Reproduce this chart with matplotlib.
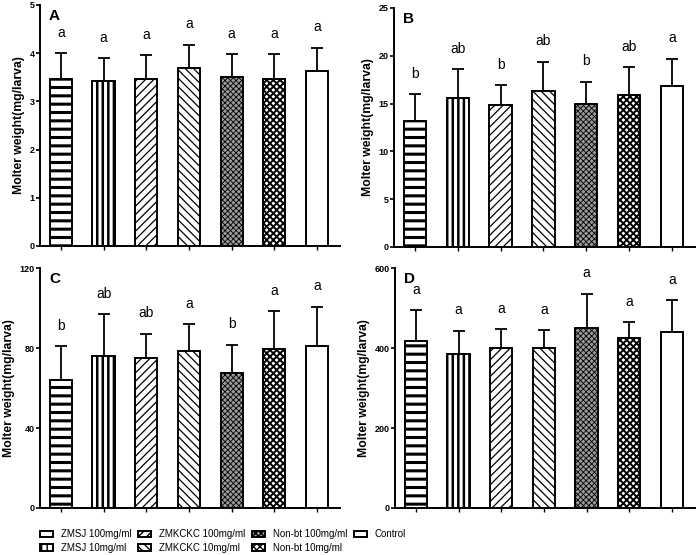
import matplotlib
matplotlib.use("Agg")
import matplotlib.pyplot as plt
import numpy as np

plt.rcParams["font.family"] = ["Liberation Sans", "DejaVu Sans"]

groups = ["ZMSJ 100mg/ml", "ZMSJ 10mg/ml", "ZMKCKC 100mg/ml", "ZMKCKC 10mg/ml",
          "Non-bt 100mg/ml", "Non-bt 10mg/ml", "Control"]

# panel data: means, upper error (mean + sd), letters
a_mean = [3.46, 3.42, 3.46, 3.70, 3.51, 3.46, 3.64]
a_top  = [4.00, 3.90, 3.96, 4.18, 3.98, 3.98, 4.11]
a_let  = ["a", "a", "a", "a", "a", "a", "a"]

b_mean = [13.2, 15.6, 14.8, 16.3, 15.0, 15.9, 16.8]
b_top  = [16.0, 18.6, 16.9, 19.4, 17.3, 18.8, 19.7]
b_let  = ["b", "ab", "b", "ab", "b", "ab", "a"]

c_mean = [63.9, 75.8, 74.8, 78.6, 67.6, 79.6, 81.1]
c_top  = [80.8, 97.0, 87.1, 92.0, 81.6, 98.5, 100.7]
c_let  = ["b", "ab", "ab", "a", "b", "a", "a"]

d_mean = [418, 384, 400, 400, 451, 426, 439]
d_top  = [494, 443, 447, 445, 536, 465, 519]
d_let  = ["a", "a", "a", "a", "a", "a", "a"]

hatches = ["--", "|||", "////", "\\\\\\\\", "xxxxxx", "xxxxx", ""]
faces   = ["white", "white", "white", "white", "#9a9a9a", "white", "white"]
hatch_lw = [2.2, 1.8, 0.9, 0.9, 0.6, 1.4, 1.0]

panels = [
    ("A", a_mean, a_top, a_let, 5, [0, 1, 2, 3, 4, 5], [0.0574, 0.5568, 0.4304, 0.4342]),
    ("B", b_mean, b_top, b_let, 25, [0, 5, 10, 15, 20, 25], [0.5653, 0.5550, 0.4317, 0.4306]),
    ("C", c_mean, c_top, c_let, 120, [0, 40, 80, 120], [0.0574, 0.0847, 0.4304, 0.4323]),
    ("D", d_mean, d_top, d_let, 600, [0, 200, 400, 600], [0.5667, 0.0847, 0.4303, 0.4323]),
]

fig = plt.figure(figsize=(6.97, 5.55), dpi=100)

x = np.arange(len(groups))
handles = []
for name, mean, top, lets, ymax, yticks, rect in panels:
    ax = fig.add_axes(rect)
    bars = []
    for i in range(len(groups)):
        with plt.rc_context({"hatch.linewidth": hatch_lw[i], "hatch.color": "black"}):
            b = ax.bar(x[i], mean[i], width=0.52, color=faces[i], edgecolor="black",
                       linewidth=1.4, hatch=hatches[i], label=groups[i], zorder=2)
        bars.append(b[0])
        err = top[i] - mean[i]
        ax.errorbar(x[i], mean[i], yerr=[[0], [err]], fmt="none", ecolor="black",
                    elinewidth=1.3, capsize=4.5, capthick=1.3, zorder=1)
        ax.text(x[i], top[i] + 0.085 * ymax, lets[i], ha="center", va="center",
                fontsize=10)
    if not handles:
        handles = bars
    ax.set_xlim(-0.49, 6.54)
    ax.set_ylim(0, ymax)
    ax.set_yticks(yticks)
    ax.set_xticks(x)
    ax.set_xticklabels([])
    ax.spines["top"].set_visible(False)
    ax.spines["right"].set_visible(False)
    ax.spines["left"].set_linewidth(1.4)
    ax.spines["bottom"].set_linewidth(1.4)
    ax.tick_params(axis="y", direction="out", length=3, width=1.2, labelsize=6.5, pad=1)
    ax.tick_params(axis="x", direction="out", length=3, width=1.0)
    for lab in ax.get_yticklabels():
        lab.set_fontweight("bold")
    ax.set_ylabel("Molter weight(mg/larva)", fontsize=8.8, fontweight="bold", labelpad=3)
    ax.text(0.03, 0.985, name, transform=ax.transAxes, fontsize=11, fontweight="bold",
            ha="left", va="top")

fig.legend(handles, groups, loc="lower left", bbox_to_anchor=(0.045, -0.012), ncol=4,
           frameon=False, fontsize=7, handlelength=1.3, handleheight=0.6,
           columnspacing=0.75, handletextpad=0.8, labelspacing=0.4)

fig.savefig("out.png", dpi=100)
